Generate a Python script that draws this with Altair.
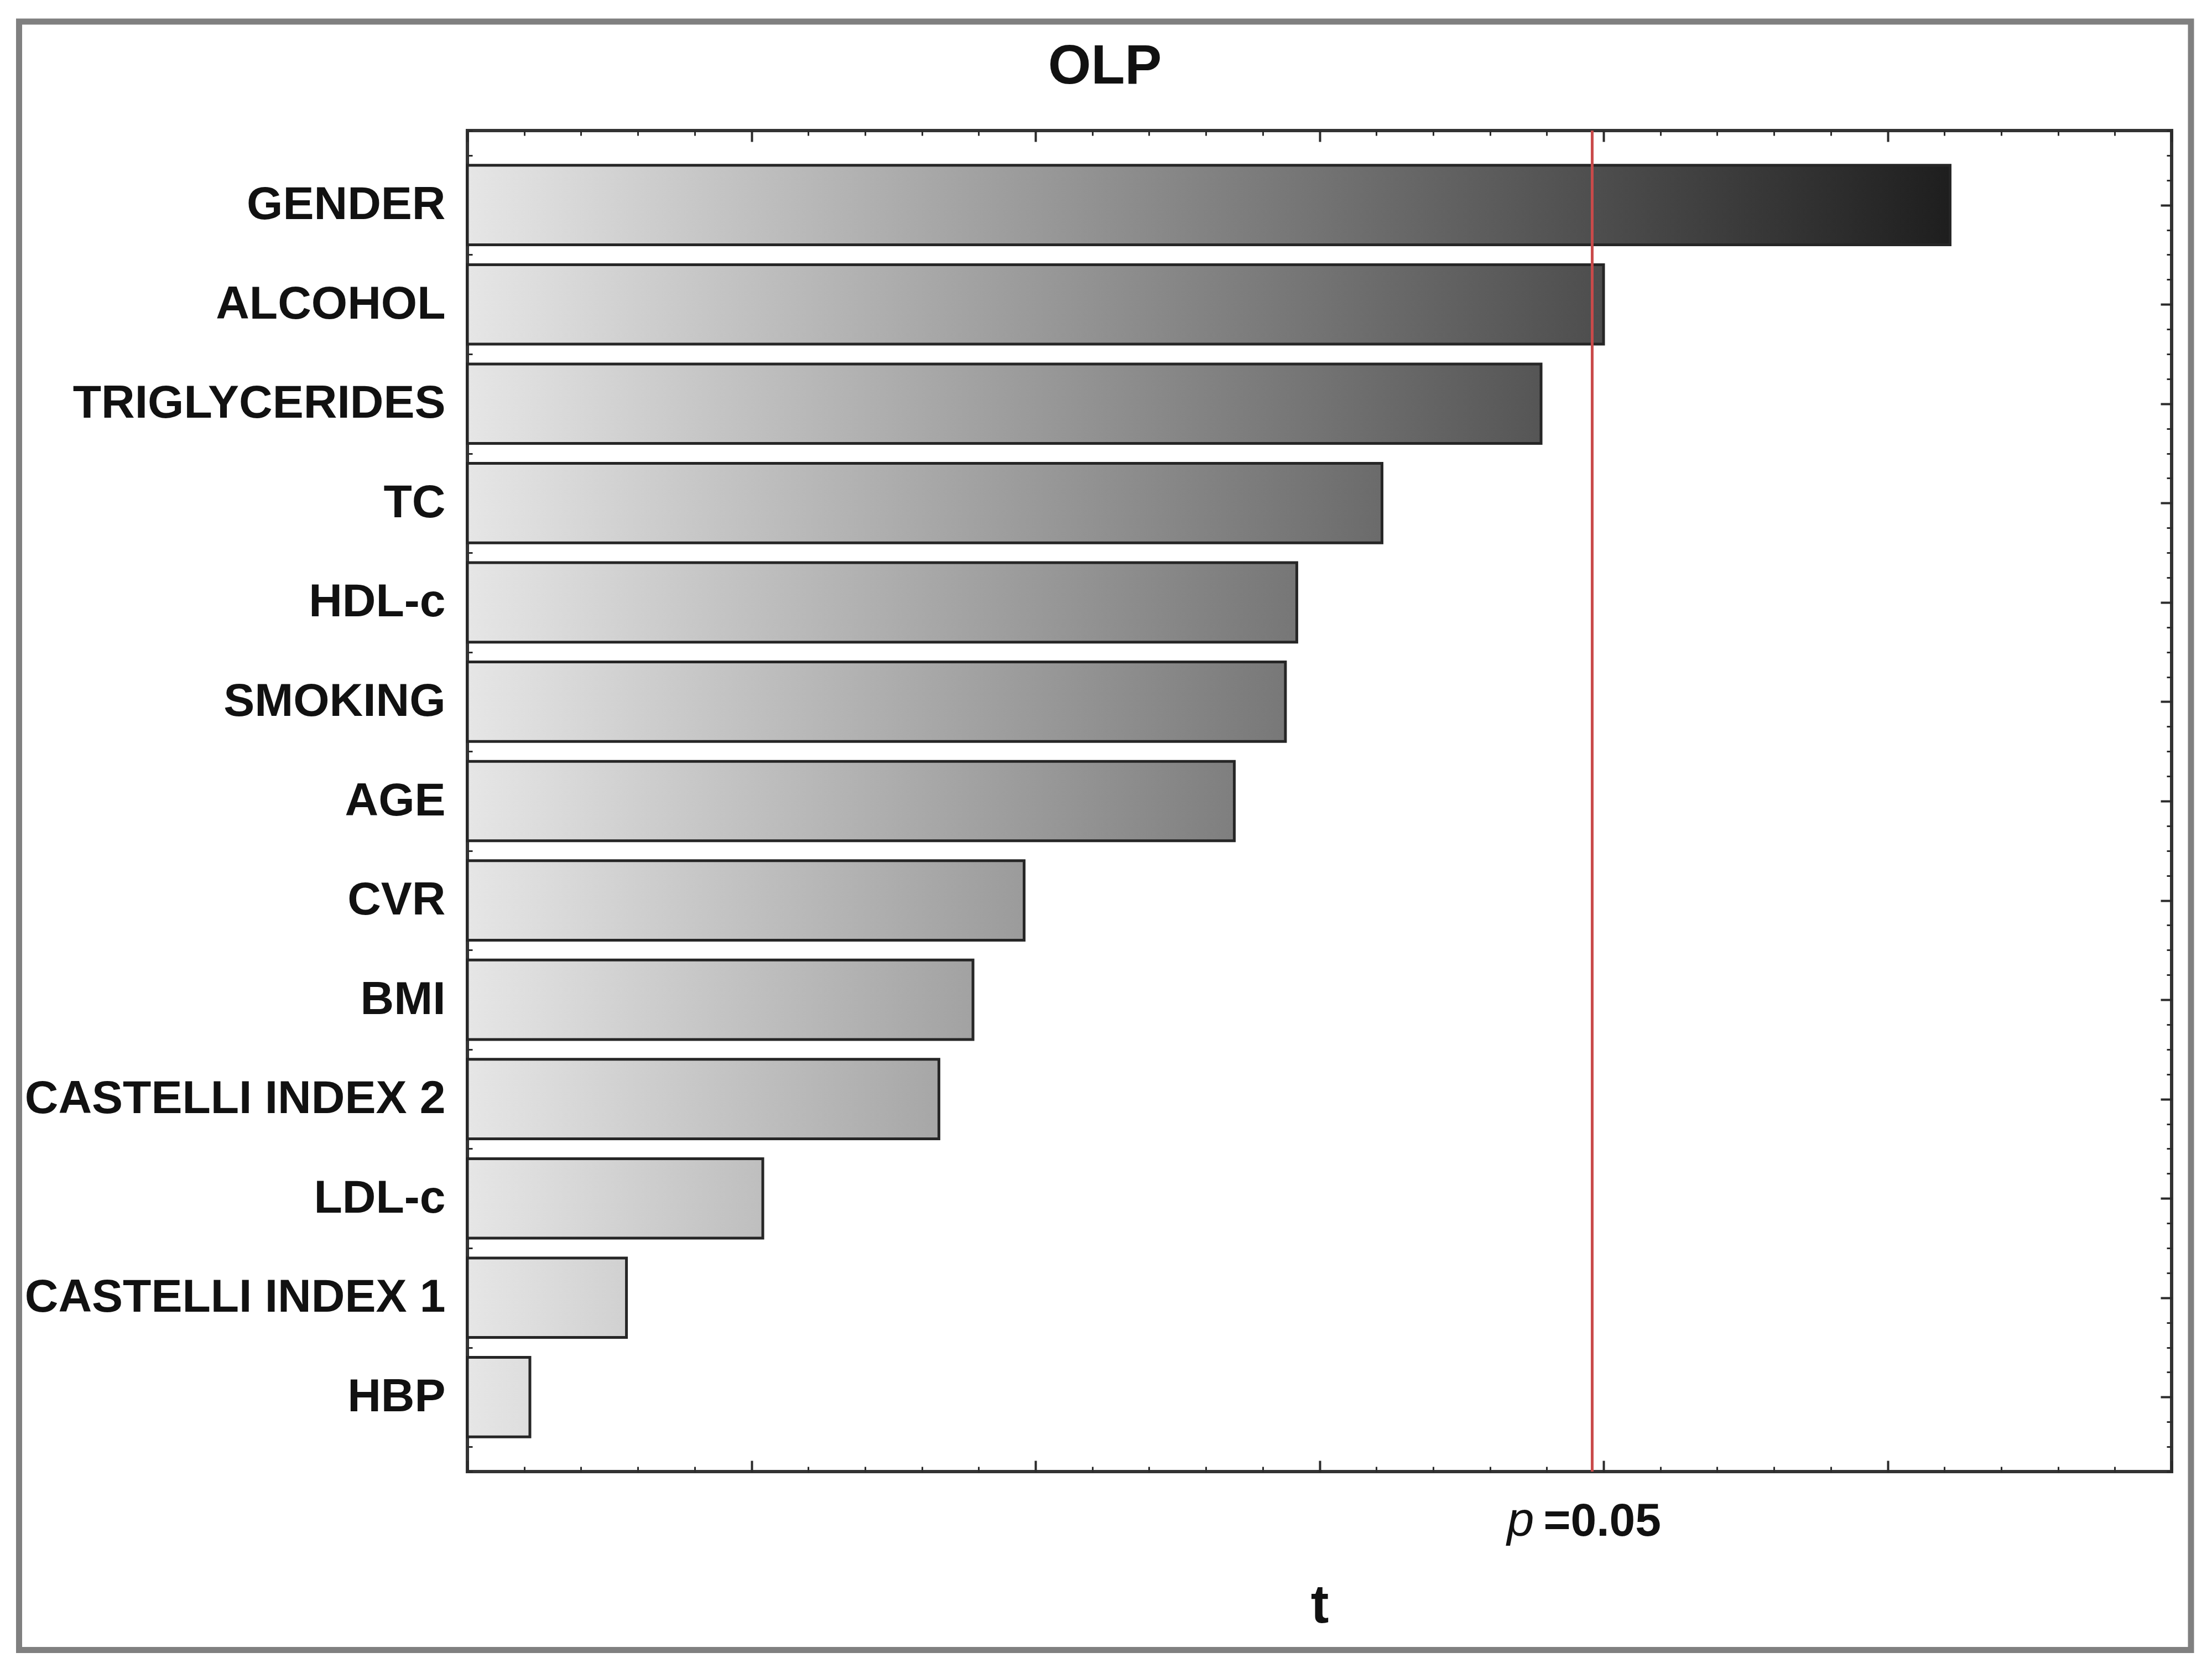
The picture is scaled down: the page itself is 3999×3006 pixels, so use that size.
import json
import altair as alt
import pandas as pd

# ---------------- data ----------------
categories = ["GENDER", "ALCOHOL", "TRIGLYCERIDES", "TC", "HDL-c", "SMOKING", "AGE",
              "CVR", "BMI", "CASTELLI INDEX 2", "LDL-c", "CASTELLI INDEX 1", "HBP"]
t_values = [2.61, 2.00, 1.89, 1.61, 1.46, 1.44, 1.35, 0.98, 0.89, 0.83, 0.52, 0.28, 0.11]
critical_t = [1.98]          # t at p = 0.05

x_major_ticks = [0.0, 0.5, 1.0, 1.5, 2.0, 2.5, 3.0]
x_minor_ticks = [0.0, 0.1, 0.2, 0.3, 0.4, 0.5, 0.6, 0.7, 0.8, 0.9, 1.0, 1.1, 1.2, 1.3, 1.4, 1.5,
                 1.6, 1.7, 1.8, 1.9, 2.0, 2.1, 2.2, 2.3, 2.4, 2.5, 2.6, 2.7, 2.8, 2.9, 3.0]
y_major_ticks = [0, 1, 2, 3, 4, 5, 6, 7, 8, 9, 10, 11, 12]
y_minor_ticks = [-0.75 + 0.25 * i for i in range(55)]

# ---------------- layout ----------------
W, H = 3081, 2424
FONT = "Liberation Sans"
TICK = "#2b2b2b"

bars_df = pd.DataFrame({"variable": categories, "t": t_values,
                        "idx": list(range(len(categories)))})
crit_df = pd.DataFrame({"t_crit": critical_t})

x_scale = alt.Scale(domain=[0, 3.0], nice=False, zero=False)
y_scale = alt.Scale(domain=[-0.75, 12.75], nice=False, zero=False, reverse=True)


def tick_axis(orient, values, size, width):
    return alt.Axis(orient=orient, values=values, offset=-size, tickSize=size,
                    tickWidth=width, tickColor=TICK, labels=False, domain=False,
                    grid=False, title=None)


label_expr = json.dumps(categories) + "[datum.value]"

grad_expr = ("{'gradient': 'linear', 'x1': 0, 'y1': 0, 'x2': datum.t_max / datum.t, 'y2': 0, "
             "'stops': [{'offset': 0, 'color': '#e6e6e6'}, {'offset': 1, 'color': '#1e1e1e'}]}")

frame = alt.Chart(crit_df).mark_rect(fillOpacity=0, stroke="#808080", strokeWidth=11).encode(
    x=alt.value(-810.5), x2=alt.value(3116), y=alt.value(-197), y2=alt.value(2746.5)
)

bars = alt.Chart(bars_df).transform_joinaggregate(
    t_max="max(t)"
).transform_calculate(
    lo="datum.idx - 0.4", hi="datum.idx + 0.4", zero="0", grad=grad_expr
).mark_rect(stroke="#262626", strokeWidth=5).encode(
    x=alt.X("t:Q", scale=x_scale,
            axis=alt.Axis(orient="bottom", values=x_major_ticks, offset=-20, tickSize=20,
                          tickWidth=4, tickColor=TICK, labels=False, domain=False, grid=False,
                          title="t", titleFont=FONT, titleFontSize=98, titleFontWeight="bold",
                          titleColor="#111111", titleBaseline="alphabetic", titleY=292)),
    x2="zero:Q",
    y=alt.Y("lo:Q", scale=y_scale,
            axis=alt.Axis(orient="left", values=y_major_ticks, labelExpr=label_expr,
                          ticks=False, tickSize=0, domain=False, grid=False,
                          labelFont=FONT, labelFontSize=84, labelFontWeight="bold",
                          labelColor="#111111", labelPadding=40, labelLimit=3000,
                          labelOverlap=False, title=None)),
    y2="hi:Q",
    fill=alt.Fill("grad:N", scale=None),
)

rule = alt.Chart(crit_df).mark_rule(color="#c94a4a", strokeWidth=5).encode(
    x=alt.X("t_crit:Q", scale=x_scale, axis=tick_axis("bottom", x_minor_ticks, 9, 3))
)

p_text = alt.Chart(crit_df).mark_text(
    text="p", font=FONT, fontSize=88, fontStyle="italic", align="right",
    baseline="alphabetic", dx=-105, color="#111111"
).encode(
    x=alt.X("t_crit:Q", scale=x_scale, axis=tick_axis("top", x_major_ticks, 20, 4)),
    y=alt.value(H + 116),
)

eq_text = alt.Chart(crit_df).mark_text(
    text="=0.05", font=FONT, fontSize=84, fontWeight="bold", align="left",
    baseline="alphabetic", dx=-88, color="#111111"
).encode(
    x=alt.X("t_crit:Q", scale=x_scale, axis=tick_axis("top", x_minor_ticks, 9, 3)),
    y=alt.value(H + 116),
)


def carrier(axis):
    return alt.Chart(bars_df).mark_point(opacity=0).encode(
        y=alt.Y("idx:Q", scale=y_scale, axis=axis)
    )


c1 = carrier(tick_axis("left", y_major_ticks, 20, 4))
c2 = carrier(tick_axis("left", y_minor_ticks, 9, 3))
c3 = carrier(tick_axis("right", y_major_ticks, 20, 4))
c4 = carrier(tick_axis("right", y_minor_ticks, 9, 3))

chart = alt.layer(frame, bars, rule, p_text, eq_text, c1, c2, c3, c4).resolve_axis(
    x="independent", y="independent"
).properties(
    width=W, height=H,
    title=alt.TitleParams("OLP", font=FONT, fontSize=100, fontWeight="bold", color="#111111",
                          anchor="middle", frame="group", dx=-388, dy=94, offset=-123,
                          baseline="alphabetic"),
    autosize=alt.AutoSizeParams(type="none"),
    padding={"left": 837, "top": 228, "right": 65, "bottom": 330},
).configure(background="white").configure_view(stroke="#333333", strokeWidth=6)

chart.save("out.html", embed_options={"renderer": "svg", "actions": False})
